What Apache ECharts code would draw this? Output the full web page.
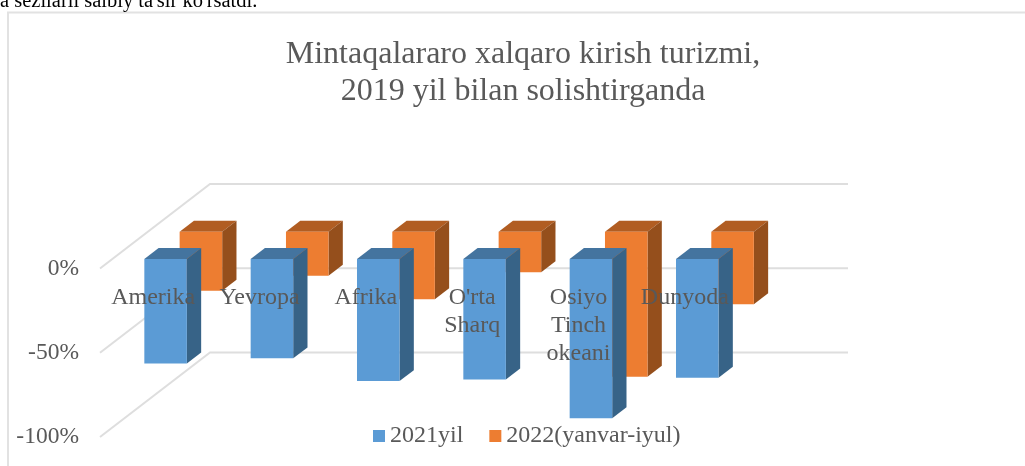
<!DOCTYPE html>
<html>
<head>
<meta charset="utf-8">
<style>
  html, body { margin: 0; padding: 0; background: #fff; overflow: hidden; }
  #chart { width: 1025px; height: 466px; }
</style>
<script src="https://cdn.jsdelivr.net/npm/echarts@6/dist/echarts.min.js"></script>
</head>
<body>
<div id="chart"></div>
<script>
const categories = ['Amerika', 'Yevropa', 'Afrika', "O'rta\nSharq", 'Osiyo\nTinch\nokeani', 'Dunyoda']
const values2021 = [-62, -59, -72.5, -71.5, -94.5, -70.5]
const values2022 = [-35, -26, -40, -24, -86, -43]
const yTicks = [0, -50, -100]

const FONT = '"Liberation Serif", serif'
const TEXT = '#595959'
const GRID_LINE = '#dedede'
// oblique offset from the front plane to the back wall
const DEPTH_X = 110
const DEPTH_Y = -84.5
const BAR_DEPTH = 0.13

// one 3d bar: front, top and side faces
function barItem (depth, colors) {
  return function (params, api) {
    const top = api.coord([api.value(0), 0])
    const bottom = api.coord([api.value(0), api.value(1)])
    const w = api.size([1, 0])[0] * 0.4
    const x0 = top[0] - w / 2 + DEPTH_X * depth
    const x1 = x0 + w
    const y0 = top[1] + DEPTH_Y * depth
    const y1 = bottom[1] + DEPTH_Y * depth
    const dx = DEPTH_X * BAR_DEPTH
    const dy = DEPTH_Y * BAR_DEPTH
    const face = (points, fill) => ({ type: 'polygon', shape: { points }, style: { fill } })
    return {
      type: 'group',
      children: [
        face([[x0, y0], [x1, y0], [x1 + dx, y0 + dy], [x0 + dx, y0 + dy]], colors.top),
        face([[x1, y0], [x1 + dx, y0 + dy], [x1 + dx, y1 + dy], [x1, y1]], colors.side),
        face([[x0, y0], [x1, y0], [x1, y1], [x0, y1]], colors.front)
      ]
    }
  }
}

// wall and floor lines, one polyline per value tick
function gridItem (params, api) {
  const p = api.coord([0, api.value(1)])
  const rect = params.coordSys
  return {
    type: 'polyline',
    shape: {
      points: [
        [rect.x, p[1]],
        [rect.x + DEPTH_X, p[1] + DEPTH_Y],
        [rect.x + rect.width + DEPTH_X, p[1] + DEPTH_Y]
      ]
    },
    style: { stroke: GRID_LINE, lineWidth: 2, fill: null }
  }
}

const blue = { front: '#5b9bd5', top: '#44749f', side: '#376387' }
const orange = { front: '#ed7d31', top: '#b15d22', side: '#954f1c' }

const myChart = echarts.init(document.getElementById('chart'))
myChart.setOption({
  animation: false,
  backgroundColor: '#fff',
  textStyle: { fontFamily: FONT },
  title: [
    {
      text: 'Mintaqalararo xalqaro kirish turizmi,\n2019 yil bilan solishtirganda',
      left: 518,
      top: 31,
      textAlign: 'center',
      textStyle: { fontFamily: FONT, fontWeight: 'normal', fontSize: 32, lineHeight: 37, color: TEXT }
    },
    {
      text: "a sezilarli salbiy ta'sir ko'rsatdi.",
      left: 0,
      top: -9,
      padding: 0,
      textStyle: { fontFamily: FONT, fontWeight: 'normal', fontSize: 20.5, color: '#000' }
    }
  ],
  legend: {
    left: 373,
    top: 424,
    padding: 0,
    itemWidth: 12,
    itemHeight: 12,
    itemGap: 26,
    icon: 'rect',
    data: ['2021yil', '2022(yanvar-iyul)'],
    textStyle: { fontFamily: FONT, fontSize: 24, color: TEXT }
  },
  graphic: [
    {
      type: 'rect',
      shape: { x: 8, y: 12.5, width: 1100, height: 600 },
      style: { fill: null, stroke: '#e2e2e2', lineWidth: 2 },
      silent: true
    }
  ],
  grid: { left: 100, top: 268.5, width: 638, height: 168.5, outerBoundsMode: 'none' },
  xAxis: {
    type: 'category',
    data: categories,
    z: 10,
    position: 'bottom',
    offset: -168.5,
    axisLine: { show: false, onZero: false },
    axisTick: { show: false },
    axisLabel: {
      interval: 0,
      margin: 15,
      fontFamily: FONT,
      fontSize: 24,
      lineHeight: 28,
      color: TEXT
    }
  },
  yAxis: {
    type: 'value',
    min: -100,
    max: 0,
    interval: 50,
    axisLine: { show: false },
    axisTick: { show: false },
    splitLine: { show: false },
    axisLabel: {
      margin: 21,
      fontFamily: FONT,
      fontSize: 23.5,
      color: TEXT,
      formatter: v => (yTicks.includes(v) ? v + '%' : '')
    }
  },
  series: [
    {
      name: 'grid',
      type: 'custom',
      silent: true,
      z: 1,
      renderItem: gridItem,
      data: yTicks.map(v => [0, v])
    },
    {
      name: '2022(yanvar-iyul)',
      type: 'custom',
      z: 2,
      itemStyle: { color: orange.front },
      renderItem: barItem(0.434, orange),
      data: values2022.map((v, i) => [i, v])
    },
    {
      name: '2021yil',
      type: 'custom',
      z: 3,
      itemStyle: { color: blue.front },
      renderItem: barItem(0.113, blue),
      data: values2021.map((v, i) => [i, v])
    }
  ]
})
</script>
</body>
</html>
